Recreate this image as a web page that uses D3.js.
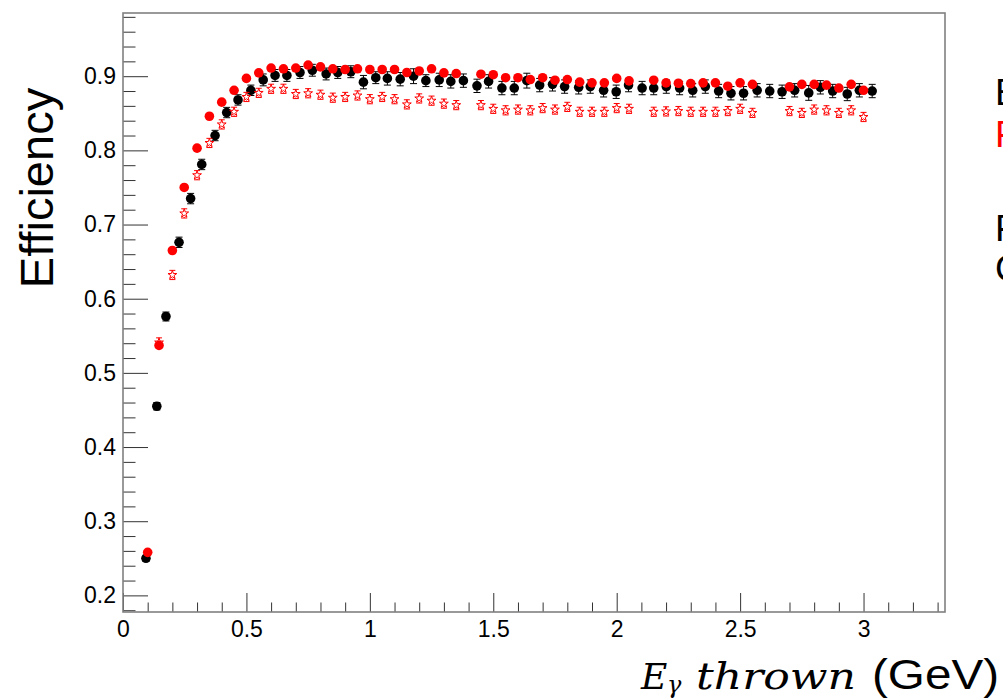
<!DOCTYPE html>
<html><head><meta charset="utf-8">
<script src="https://cdn.jsdelivr.net/npm/d3@7"></script>
<style>body{margin:0;background:#fff;overflow:hidden}svg{display:block}</style>
</head><body><svg id="c" width="1003" height="698"></svg>
<script>
// ---- data ----
const blackX = [0.093,0.137,0.174,0.227,0.274,0.319,0.373,0.420,0.466,0.518,0.568,0.616,0.664,0.717,0.767,0.823,0.870,0.923,0.974,1.024,1.071,1.123,1.177,1.227,1.281,1.328,1.379,1.434,1.481,1.535,1.585,1.636,1.688,1.740,1.789,1.846,1.893,1.947,1.998,2.048,2.103,2.150,2.201,2.255,2.308,2.359,2.413,2.463,2.514,2.569,2.620,2.670,2.721,2.778,2.825,2.875,2.934,2.983,3.035];
const blackY = [0.250,0.455,0.576,0.676,0.735,0.781,0.820,0.851,0.868,0.881,0.895,0.901,0.901,0.905,0.908,0.903,0.905,0.906,0.892,0.898,0.897,0.896,0.900,0.894,0.895,0.893,0.894,0.887,0.893,0.884,0.884,0.894,0.888,0.889,0.886,0.885,0.886,0.881,0.879,0.888,0.884,0.884,0.886,0.884,0.881,0.886,0.880,0.877,0.877,0.881,0.880,0.879,0.881,0.8775,0.885,0.880,0.876,0.881,0.880];
const blackErr = [0.004,0.005,0.006,0.007,0.007,0.007,0.007,0.007,0.007,0.007,
  0.008,0.008,0.008,0.008,0.008,0.008,0.008,0.008,0.009,0.008,
  0.009,0.009,0.010,0.008,0.009,0.009,0.009,0.009,0.009,0.009,
  0.009,0.010,0.009,0.009,0.009,0.009,0.009,0.009,0.009,0.009,
  0.009,0.009,0.009,0.009,0.009,0.009,0.009,0.009,0.009,0.009,
  0.009,0.009,0.009,0.010,0.009,0.009,0.009,0.009,0.009];

const redX = [0.10,0.146,0.20,0.248,0.30,0.35,0.40,0.45,0.50,0.55,0.60,0.65,0.70,0.75,0.80,0.85,0.90,0.95,1.00,1.05,1.10,1.15,1.20,1.25,1.30,1.35,1.45,1.50,1.55,1.60,1.65,1.70,1.75,1.80,1.85,1.90,1.95,2.00,2.05,2.15,2.20,2.25,2.30,2.35,2.40,2.45,2.50,2.55,2.70,2.75,2.80,2.85,2.90,2.95,3.00];
const redY = [0.258,0.537,0.665,0.750,0.803,0.846,0.865,0.881,0.897,0.9045,0.911,0.910,0.911,0.915,0.9125,0.910,0.909,0.910,0.909,0.909,0.909,0.905,0.907,0.910,0.9045,0.9036,0.9027,0.902,0.898,0.898,0.8955,0.898,0.8946,0.8955,0.892,0.891,0.891,0.897,0.8937,0.8946,0.891,0.8905,0.890,0.891,0.891,0.8865,0.891,0.889,0.8856,0.889,0.889,0.888,0.884,0.889,0.881];

const starX = [0.146,0.20,0.248,0.30,0.35,0.40,0.45,0.50,0.55,0.60,0.65,0.70,0.75,0.80,0.85,0.90,0.95,1.00,1.05,1.10,1.15,1.20,1.25,1.30,1.35,1.45,1.50,1.55,1.60,1.65,1.70,1.75,1.80,1.85,1.90,1.95,2.00,2.05,2.15,2.20,2.25,2.30,2.35,2.40,2.45,2.50,2.55,2.70,2.75,2.80,2.85,2.90,2.95,3.00];
const starY = [0.541,0.632,0.715,0.7665,0.810,0.835,0.852,0.872,0.8775,0.883,0.883,0.876,0.877,0.875,0.871,0.872,0.874,0.869,0.872,0.869,0.862,0.870,0.867,0.863,0.861,0.861,0.856,0.854,0.855,0.854,0.857,0.855,0.8586,0.852,0.852,0.852,0.857,0.856,0.852,0.8525,0.853,0.852,0.852,0.852,0.853,0.856,0.8505,0.853,0.8505,0.855,0.854,0.8505,0.854,0.845];
const starErr = 0.0062;

const xTickValues = [0,0.5,1,1.5,2,2.5,3];
const xTickLabels = ["0","0.5","1","1.5","2","2.5","3"];
const yTickValues = [0.2,0.3,0.4,0.5,0.6,0.7,0.8,0.9];
const yTickLabels = ["0.2","0.3","0.4","0.5","0.6","0.7","0.8","0.9"];
const sideLabels = [{t:"E",c:"#000"},{t:"F",c:"#f00"},{t:"F",c:"#000"},{t:"C",c:"#000"}];

// ---- layout ----
const svg = d3.select("#c");
const L = 123, R = 945, T = 13, B = 612;
const x = d3.scaleLinear().domain([0, 3.33]).range([L, R]);
const y = d3.scaleLinear().domain([0.1776, 0.9852]).range([B, T]);
const sans = "'Liberation Sans', Arial, Helvetica, sans-serif";

// minor ticks
const yMinor = d3.range(0.18, 0.985, 0.02).filter(v => !yTickValues.some(t => Math.abs(t - v) < 1e-6));
const xMinor = d3.range(0.1, 3.33, 0.1).filter(v => !xTickValues.some(t => Math.abs(t - v) < 1e-6));

const gy = svg.append("g").attr("transform", `translate(${L},0)`);
gy.call(d3.axisLeft(y).tickValues(yMinor).tickSize(-12.5).tickFormat(""));
gy.call(g => g.select(".domain").remove());
const gy2 = svg.append("g").attr("transform", `translate(${L},0)`);
gy2.call(d3.axisLeft(y).tickValues(yTickValues).tickSize(-25).tickPadding(7)
  .tickFormat((d,i) => yTickLabels[i]));
gy2.call(g => g.select(".domain").remove());

const gx = svg.append("g").attr("transform", `translate(0,${B})`);
gx.call(d3.axisBottom(x).tickValues(xMinor).tickSize(-9.5).tickFormat(""));
gx.call(g => g.select(".domain").remove());
const gx2 = svg.append("g").attr("transform", `translate(0,${B})`);
gx2.call(d3.axisBottom(x).tickValues(xTickValues).tickSize(-19)
  .tickFormat((d,i) => xTickLabels[i]));
gx2.call(g => g.select(".domain").remove());
gx2.selectAll("text").attr("y", 25).attr("dy", 0);

svg.selectAll(".tick line").attr("stroke", "#333").attr("stroke-width", 1);
svg.selectAll(".tick text").attr("font-family", sans).attr("font-size", 23).attr("fill", "#000");

// frame
svg.append("rect").attr("x", L).attr("y", T).attr("width", R - L).attr("height", B - T)
  .attr("fill", "none").attr("stroke", "#808080").attr("stroke-width", 1.6);

// ---- black series ----
const black = blackX.map((v,i) => ({x:v, y:blackY[i], e:blackErr[i]}));
const gb = svg.append("g");
black.forEach(d => {
  const cx = x(d.x), y1 = y(d.y + d.e), y2 = y(d.y - d.e);
  gb.append("line").attr("x1", cx).attr("x2", cx).attr("y1", y1).attr("y2", y2).attr("stroke", "#000").attr("stroke-width", 1);
  gb.append("line").attr("x1", cx - 3.5).attr("x2", cx + 3.5).attr("y1", y1).attr("y2", y1).attr("stroke", "#000").attr("stroke-width", 1);
  gb.append("line").attr("x1", cx - 3.5).attr("x2", cx + 3.5).attr("y1", y2).attr("y2", y2).attr("stroke", "#000").attr("stroke-width", 1);
});
gb.selectAll("circle").data(black).join("circle")
  .attr("cx", d => x(d.x)).attr("cy", d => y(d.y)).attr("r", 4.8).attr("fill", "#000");

// ---- red open stars ----
const stars = starX.map((v,i) => ({x:v, y:starY[i]}));
const gs = svg.append("g").attr("stroke", "#f00").attr("fill", "none").attr("stroke-width", 1);
const rs = 4.4;
stars.forEach(d => {
  const cx = x(d.x), cy = y(d.y), y1 = y(d.y + starErr), y2 = y(d.y - starErr);
  gs.append("line").attr("x1", cx).attr("x2", cx).attr("y1", y1).attr("y2", cy - rs);
  gs.append("line").attr("x1", cx).attr("x2", cx).attr("y1", cy + rs * 0.8).attr("y2", y2);
  gs.append("line").attr("x1", cx - 3).attr("x2", cx + 3).attr("y1", y1).attr("y2", y1);
  gs.append("line").attr("x1", cx - 3).attr("x2", cx + 3).attr("y1", y2).attr("y2", y2);
});
gs.selectAll("path").data(stars).join("path")
  .attr("d", d3.symbol(d3.symbolStar, 24))
  .attr("transform", d => `translate(${x(d.x)},${y(d.y)})`);

// ---- red filled ----
const red = redX.map((v,i) => ({x:v, y:redY[i]}));
svg.append("g").selectAll("circle").data(red).join("circle")
  .attr("cx", d => x(d.x)).attr("cy", d => y(d.y)).attr("r", 4.8).attr("fill", "#f00");

// ---- titles ----
svg.append("text").attr("transform", "translate(53,188) rotate(-90)")
  .attr("text-anchor", "middle").attr("font-family", sans).attr("font-size", 47).attr("fill", "#000")
  .text("Efficiency");

const serif = "'DejaVu Serif', 'Liberation Serif', serif";
svg.append("text").attr("x", 641).attr("y", 689).attr("font-family", serif).attr("font-style", "italic")
  .attr("font-size", 36).text("E");
svg.append("text").attr("x", 667).attr("y", 693).attr("font-family", serif).attr("font-style", "italic")
  .attr("font-size", 24).text("γ");
svg.append("text").attr("x", 696).attr("y", 689).attr("font-family", serif).attr("font-style", "italic")
  .attr("font-size", 38).attr("textLength", 160).attr("lengthAdjust", "spacingAndGlyphs").text("thrown");
svg.append("text").attr("x", 872).attr("y", 689).attr("font-family", sans).attr("font-size", 42)
  .attr("textLength", 127).attr("lengthAdjust", "spacingAndGlyphs").text("(GeV)");

// ---- side text (clipped by page edge, as in the reference) ----
const sideY = [105, 147, 241, 281];
svg.append("g").selectAll("text").data(sideLabels).join("text")
  .attr("x", 995).attr("y", (d,i) => sideY[i]).attr("font-family", sans).attr("font-size", 37)
  .attr("fill", d => d.c).text(d => d.t);
</script>
</body></html>
